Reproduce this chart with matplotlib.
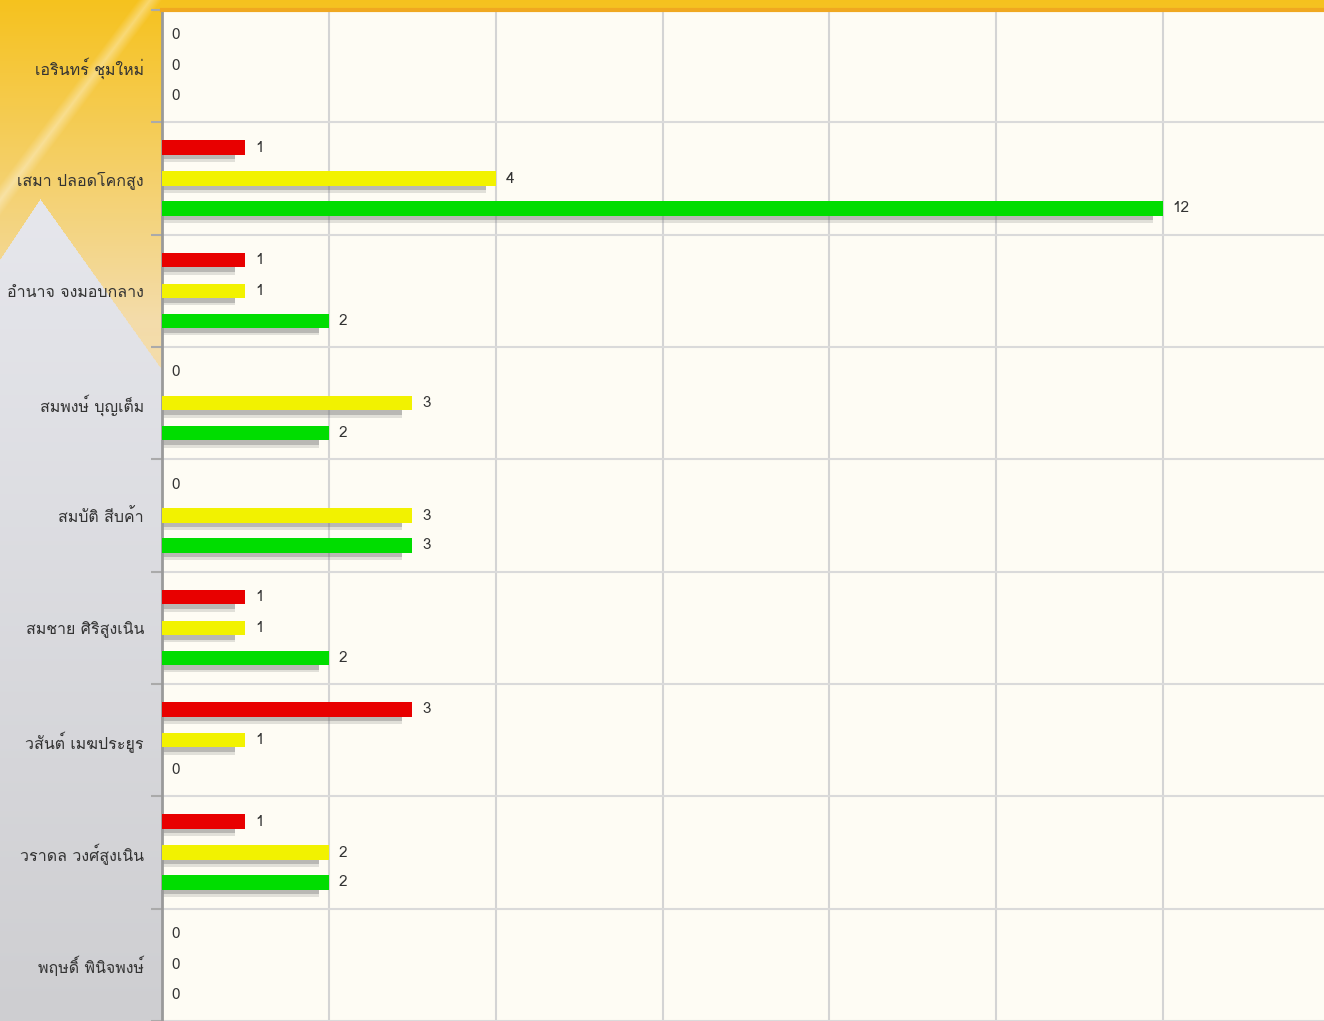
import matplotlib
matplotlib.use('Agg')
import matplotlib.pyplot as plt
import numpy as np
from matplotlib import font_manager
from matplotlib.ft2font import FT2Font

names = [
    'เอรินทร์ ชุมใหม่',
    'เสมา ปลอดโคกสูง',
    'อำนาจ จงมอบกลาง',
    'สมพงษ์ บุญเต็ม',
    'สมบัติ สีบค้า',
    'สมชาย ศิริสูงเนิน',
    'วสันต์ เมฆประยูร',
    'วราดล วงศ์สูงเนิน',
    'พฤษดิ์ พินิจพงษ์',
]

red_vals = [0, 1, 1, 0, 0, 1, 3, 1, 0]
yellow_vals = [0, 4, 1, 3, 3, 1, 1, 2, 0]
green_vals = [0, 12, 2, 2, 3, 2, 0, 2, 0]

series = [
    (red_vals, '#e80000'),
    (yellow_vals, '#f2f200'),
    (green_vals, '#00dd00'),
]


def thai_fonts():
    found = []
    for f in font_manager.fontManager.ttflist:
        try:
            cmap = FT2Font(f.fname).get_charmap()
        except Exception:
            continue
        if 0x0E01 in cmap and f.name not in found:
            found.append(f.name)
    return found


plt.rcParams['font.family'] = thai_fonts() + ['DejaVu Sans']

W, H = 1324, 1021
fig = plt.figure(figsize=(W / 100, H / 100), dpi=100)

# background: orange top-left, grey-blue lower part
yy, xx = np.mgrid[0:H, 0:W].astype(float)
t = yy / H
base = np.zeros((H, W, 3))
top_g = np.array([236, 237, 243]) / 255
bot_g = np.array([206, 206, 209]) / 255
base[:] = top_g + (bot_g - top_g) * t[..., None]
orange_top = np.array([246, 194, 30]) / 255
orange_bot = np.array([243, 220, 170]) / 255
bound = np.where(xx < 40, 200 + (40 - xx) * 1.5, 200 + (xx - 40) * 1.4)
k = np.clip(yy / 320, 0, 1)[..., None]
orange = orange_top + (orange_bot - orange_top) * k
mask = (yy < bound)[..., None]
img = np.where(mask, orange, base)
# light diagonal stripe
d = np.abs((xx + yy * 0.75) - 150)
stripe = np.clip(1 - d / 12, 0, 1) * (yy < 220) * 0.35
img = img + (1 - img) * stripe[..., None]
bg = fig.add_axes([0, 0, 1, 1], zorder=-5)
bg.imshow(img, aspect='auto')
bg.axis('off')

ax = fig.add_axes([162 / W, 0, 1 - 162 / W, 1 - 10 / H])
ax.set_facecolor('#fefcf4')

y_pos = np.arange(len(names))
offsets = [-0.275, 0.0, 0.267]
bar_h = 0.13

for (vals, col), off in zip(series, offsets):
    y = y_pos + off
    v = np.array(vals, dtype=float)
    # soft shadow below bars
    sw = np.clip(v - 0.12, 0, None)
    ax.barh(y + 0.09, sw, height=0.08, color='#707070', alpha=0.2,
            zorder=2, linewidth=0)
    ax.barh(y + 0.08, sw, height=0.05, color='#707070', alpha=0.35,
            zorder=2, linewidth=0)
    ax.barh(y, v, height=bar_h, color=col, zorder=3, linewidth=0)
    for yi, vi in zip(y, vals):
        ax.annotate(str(vi), (vi, yi), xytext=(7, 0), textcoords='offset points',
                    va='center', ha='left', fontsize=11, color='#333333')

ax.set_xlim(0, 13.93)
ax.set_ylim(len(names) - 0.5, -0.5)
ax.set_xticks(np.arange(0, 14, 2))
ax.set_xticklabels([])
ax.tick_params(axis='x', length=0)

ax.set_yticks(y_pos)
ax.set_yticklabels(names, fontsize=11.5, color='#333333')
ax.set_yticks(np.arange(len(names) + 1) - 0.5, minor=True)
ax.tick_params(axis='y', which='major', length=0, pad=13)
ax.tick_params(axis='y', which='minor', length=8, width=1.5, color='#aaaaaa')

ax.xaxis.grid(True, color='#d4d4d4', linewidth=1.5, zorder=0)
ax.yaxis.grid(True, which='minor', color='#dadada', linewidth=1.5, zorder=0)
ax.yaxis.grid(False, which='major')
ax.set_axisbelow(True)

for s in ['right', 'bottom']:
    ax.spines[s].set_visible(False)
ax.spines['left'].set_color('#9a9a9a')
ax.spines['left'].set_linewidth(2)
ax.spines['top'].set_color('#f0a820')
ax.spines['top'].set_linewidth(3)

fig.savefig('out.png', dpi=100)
